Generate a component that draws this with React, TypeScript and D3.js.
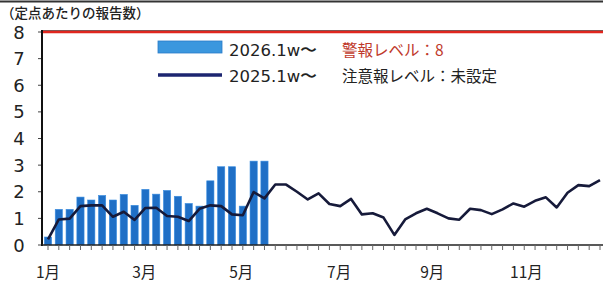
import React from "react";
import * as d3 from "d3";

const yTicks = [0, 1, 2, 3, 4, 5, 6, 7, 8];
const bars2026 = [0.3, 1.34, 1.34, 1.8, 1.69, 1.86, 1.69, 1.9, 1.49, 2.09, 1.91, 2.05, 1.83, 1.56, 1.46, 2.41, 2.94, 2.94, 1.46, 3.15, 3.15];
const line2025 = [
  0.21, 0.96, 0.99, 1.46, 1.49, 1.49, 1.06, 1.25, 0.94, 1.39,
  1.4, 1.09, 1.06, 0.9, 1.36, 1.49, 1.46, 1.15, 1.12, 1.99,
  1.75, 2.27, 2.27, 2.0, 1.71, 1.94, 1.54, 1.46, 1.73, 1.15,
  1.19, 1.03, 0.38, 0.96, 1.19, 1.36, 1.19, 1.0, 0.95, 1.36,
  1.31, 1.16, 1.34, 1.56, 1.44, 1.66, 1.79, 1.41, 1.96, 2.25,
  2.21, 2.44,
];
const monthLabels = ["1月", "3月", "5月", "7月", "9月", "11月"];
const monthLabelWeeks = [1, 9.9, 18.85, 27.9, 36.5, 45.2];
const alertLevel = 8;

export default function App() {
  const W = 603, H = 286;
  const x = d3.scaleLinear().domain([1, 52]).range([48, 600]);
  const y = d3.scaleLinear().domain([0, 8]).range([245, 32]);
  const line = d3.line<number>().x((_, i) => x(i + 1)).y((d) => y(d)).curve(d3.curveLinear);
  const weeks = d3.range(1, 53);
  const font = "'Noto Sans CJK JP', 'Noto Sans', sans-serif";
  const latin = "'DejaVu Sans', sans-serif";
  return (
    <svg width={W} height={H} style={{ position: "absolute", left: 0, top: 0, background: "#fff" }}>
      <line x1={0} x2={W} y1={1.5} y2={1.5} stroke="#333" strokeWidth={2} />
      <text x={1} y={18} fontFamily={font} fontSize={13.5} fontWeight={500} fill="#222">（定点あたりの報告数）</text>
      {yTicks.map((t) => (
        <g key={t}>
          <text x={19} y={y(t) + 6.5} textAnchor="middle" fontFamily={latin} fontSize={18} fill="#222">{t}</text>
          <line x1={38} x2={42} y1={y(t)} y2={y(t)} stroke="#444" strokeWidth={1} />
        </g>
      ))}
      {bars2026.map((v, i) => (
        <rect key={i} x={x(i + 1) - 3.6} y={y(v)} width={7.2} height={y(0) - y(v)} fill="#1f6fc6" stroke="#3a8ee0" strokeWidth={0.6} />
      ))}
      <line x1={42} x2={W} y1={y(alertLevel) - 1.5} y2={y(alertLevel) - 1.5} stroke="#666" strokeWidth={1} />
      <line x1={42} x2={W} y1={y(alertLevel)} y2={y(alertLevel)} stroke="#e0261e" strokeWidth={2.5} />
      <path d={line(line2025) || ""} fill="none" stroke="#161a3a" strokeWidth={2.6} strokeLinejoin="round" />
      <line x1={42} x2={42} y1={30} y2={246} stroke="#111" strokeWidth={2} />
      <line x1={42} x2={W} y1={245} y2={245} stroke="#222" strokeWidth={1.5} />
      {weeks.map((w) => (
        <line key={w} x1={x(w)} x2={x(w)} y1={245} y2={250} stroke="#666" strokeWidth={1} />
      ))}
      {monthLabels.map((m, i) => (
        <text key={m} x={x(monthLabelWeeks[i])} y={278} textAnchor="middle" fontFamily={font} fontSize={15.5} fill="#222">{m}</text>
      ))}
      <rect x={158} y={41} width={64} height={12} fill="#3b97de" stroke="#2a7cc8" strokeWidth={0.8} />
      <text x={229} y={56} fontFamily={latin} fontSize={16.5} fill="#222">2026.1w〜</text>
      <line x1={158} x2={222} y1={75} y2={75} stroke="#1c2570" strokeWidth={3.5} />
      <text x={229} y={82} fontFamily={latin} fontSize={16.5} fill="#222">2025.1w〜</text>
      <text x={342} y={56} fontFamily={font} fontSize={15.5} fill="#c0392b">警報レベル：8</text>
      <text x={342} y={82} fontFamily={font} fontSize={15.5} fill="#222">注意報レベル：未設定</text>
    </svg>
  );
}
